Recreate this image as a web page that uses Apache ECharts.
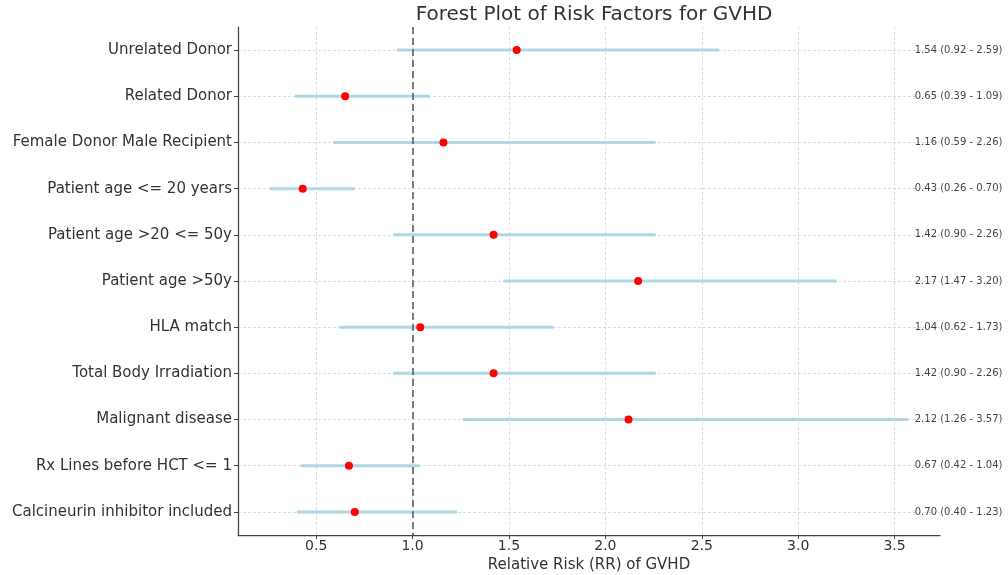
<!DOCTYPE html>
<html>
<head>
<meta charset="utf-8">
<script src="https://cdn.jsdelivr.net/npm/echarts@6/dist/echarts.min.js"></script>
<style>html,body{margin:0;padding:0;background:#fff}#c{width:1008px;height:575px}</style>
</head>
<body>
<div id="c"></div>
<script>
const categories = ["Unrelated Donor","Related Donor","Female Donor Male Recipient","Patient age <= 20 years","Patient age >20 <= 50y","Patient age >50y","HLA match","Total Body Irradiation","Malignant disease","Rx Lines before HCT <= 1","Calcineurin inhibitor included"];
const rr    = [1.54, 0.65, 1.16, 0.43, 1.42, 2.17, 1.04, 1.42, 2.12, 0.67, 0.70];
const lower = [0.92, 0.39, 0.59, 0.26, 0.90, 1.47, 0.62, 0.90, 1.26, 0.42, 0.40];
const upper = [2.59, 1.09, 2.26, 0.70, 2.26, 3.20, 1.73, 2.26, 3.57, 1.04, 1.23];
const xTicks = [0.5, 1.0, 1.5, 2.0, 2.5, 3.0, 3.5];
const refLine = 1.0;

const lo = Math.min(...lower), hi = Math.max(...upper);
const textX = hi + 0.05;
const xMin = lo - 0.05 * (hi - lo);
const xMax = hi + 0.05 * (hi - lo);

const font = 'DejaVu Sans';
const chart = echarts.init(document.getElementById('c'));
chart.setOption({
  animation: false,
  title: {
    text: 'Forest Plot of Risk Factors for GVHD',
    left: 589, top: 0, textAlign: 'center',
    textStyle: {fontFamily: font, fontSize: 20, fontWeight: 'normal', color: '#333'}
  },
  grid: {left: 238, right: 68, top: 27, bottom: 40, containLabel: false, outerBoundsMode: 'none'},
  xAxis: {
    type: 'value', min: xMin, max: xMax,
    minInterval: 0.5, maxInterval: 0.5,
    name: 'Relative Risk (RR) of GVHD', nameLocation: 'middle', nameGap: 18,
    nameTextStyle: {fontFamily: font, fontSize: 15, color: '#333'},
    axisLine: {show: true, onZero: false, lineStyle: {color: '#444', width: 1.25}},
    axisTick: {show: true, length: 4, lineStyle: {color: '#444'}},
    axisLabel: {fontFamily: font, fontSize: 14, color: '#333', margin: 4, showMinLabel: false, showMaxLabel: false,
      formatter: v => xTicks.some(t => Math.abs(t - v) < 1e-9) ? v.toFixed(1) : ''},
    splitLine: {show: true, showMinLine: false, showMaxLine: false, lineStyle: {color: '#d4d4d4', type: [3, 2], width: 0.8}}
  },
  yAxis: {
    type: 'value', min: -0.5, max: categories.length - 0.5, inverse: true,
    minInterval: 1, maxInterval: 1,
    axisLine: {show: true, onZero: false, lineStyle: {color: '#444', width: 1.25}},
    axisTick: {show: true, length: 4, lineStyle: {color: '#444'}},
    axisLabel: {fontFamily: font, fontSize: 15, color: '#333', margin: 6, showMinLabel: false, showMaxLabel: false,
      formatter: v => (Number.isInteger(v) && categories[v] !== undefined) ? categories[v] : ''},
    splitLine: {show: true, showMinLine: false, showMaxLine: false, lineStyle: {color: '#d4d4d4', type: [3, 2], width: 0.8}}
  },
  series: [
    {
      type: 'custom',
      data: categories.map((c, i) => [lower[i], upper[i], i]),
      renderItem: (params, api) => {
        const a = api.coord([api.value(0), api.value(2)]);
        const b = api.coord([api.value(1), api.value(2)]);
        return {type: 'line', shape: {x1: a[0], y1: a[1], x2: b[0], y2: b[1]},
          style: {stroke: '#add8e6', lineWidth: 3}};
      },
      z: 2
    },
    {
      type: 'scatter',
      data: categories.map((c, i) => [rr[i], i]),
      symbol: 'circle', symbolSize: 8,
      itemStyle: {color: '#ff0000', opacity: 1},
      z: 4,
      markLine: {
        silent: true, symbol: 'none', label: {show: false},
        lineStyle: {color: '#555', type: [7, 4], width: 1.5},
        data: [{xAxis: refLine}]
      }
    },
    {
      type: 'scatter',
      data: categories.map((c, i) => [textX, i]),
      symbolSize: 0,
      label: {
        show: true, position: 'right', distance: 0, offset: [-3, 0],
        fontFamily: font, fontSize: 10, color: '#111',
        formatter: p => `${rr[p.dataIndex].toFixed(2)} (${lower[p.dataIndex].toFixed(2)} - ${upper[p.dataIndex].toFixed(2)})`
      },
      z: 5
    }
  ]
});
</script>
</body>
</html>
